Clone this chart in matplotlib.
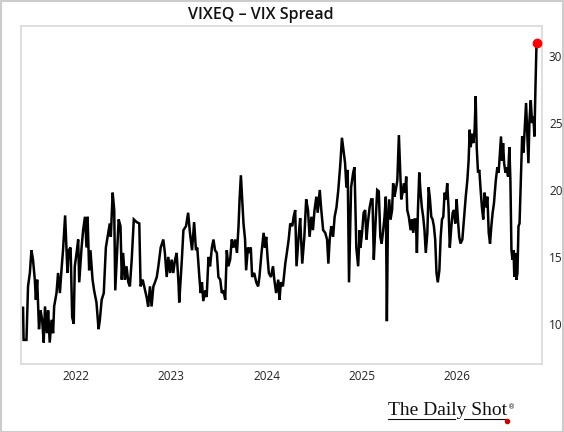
import matplotlib
matplotlib.use("Agg")
import matplotlib.pyplot as plt
import pandas as pd
from matplotlib.patches import Rectangle
from matplotlib.lines import Line2D

dates = [
 "2021-06-13","2021-06-15","2021-06-26","2021-07-02","2021-07-09","2021-07-15","2021-07-21","2021-07-28",
 "2021-08-01","2021-08-06","2021-08-13","2021-08-19","2021-08-25","2021-08-31","2021-09-05","2021-09-12",
 "2021-09-17","2021-09-23","2021-09-30","2021-10-06","2021-10-10","2021-10-19","2021-10-25","2021-11-01",
 "2021-11-07","2021-11-13","2021-11-21","2021-11-26","2021-11-30","2021-12-05","2021-12-12","2021-12-18",
 "2021-12-24","2021-12-28","2022-01-04","2022-01-10","2022-01-14","2022-01-23","2022-01-29","2022-02-05",
 "2022-02-11","2022-02-15","2022-02-21","2022-02-26","2022-03-06","2022-03-12","2022-03-21","2022-03-29",
 "2022-04-03","2022-04-10","2022-04-18","2022-04-26","2022-05-05","2022-05-11","2022-05-15","2022-05-22",
 "2022-05-28","2022-06-01","2022-06-06","2022-06-14","2022-06-21","2022-06-26","2022-07-01","2022-07-08",
 "2022-07-14","2022-07-21","2022-07-27","2022-08-03","2022-08-11","2022-08-22","2022-09-01","2022-09-06",
 "2022-09-14","2022-09-23","2022-09-29","2022-10-05","2022-10-12","2022-10-18","2022-10-25","2022-10-31",
 "2022-11-07","2022-11-13","2022-11-22","2022-12-02","2022-12-08","2022-12-15","2022-12-21","2022-12-28",
 "2023-01-03","2023-01-09","2023-01-16","2023-01-22","2023-01-29","2023-02-01","2023-02-11","2023-02-17",
 "2023-02-27","2023-03-07","2023-03-14","2023-03-22","2023-03-30","2023-04-06","2023-04-11","2023-04-19",
 "2023-04-24","2023-04-29","2023-05-04","2023-05-12","2023-05-17","2023-05-24","2023-05-30","2023-06-06",
 "2023-06-12","2023-06-18","2023-06-25","2023-07-01","2023-07-08","2023-07-14","2023-07-20","2023-07-27",
 "2023-08-02","2023-08-08","2023-08-15","2023-08-21","2023-08-28","2023-09-03","2023-09-10","2023-09-16",
 "2023-09-20","2023-09-25","2023-09-30","2023-10-05","2023-10-11","2023-10-15","2023-10-22","2023-10-28",
 "2023-11-02","2023-11-07","2023-11-15","2023-11-23","2023-11-30","2023-12-05","2023-12-13","2023-12-21",
 "2023-12-26","2023-12-31","2024-01-05","2024-01-10","2024-01-18","2024-01-26","2024-01-31","2024-02-07",
 "2024-02-15","2024-02-20","2024-02-25","2024-03-04","2024-03-13","2024-03-19","2024-03-26","2024-04-01",
 "2024-04-09","2024-04-14","2024-04-20","2024-04-25","2024-05-03","2024-05-09","2024-05-17","2024-05-25",
 "2024-06-01","2024-06-08","2024-06-14","2024-06-21","2024-06-27","2024-07-03","2024-07-10","2024-07-15",
 "2024-07-23","2024-07-28","2024-08-05","2024-08-13","2024-08-20","2024-08-25","2024-08-30","2024-09-05",
 "2024-09-12","2024-09-18","2024-09-25","2024-10-02","2024-10-10","2024-10-16","2024-10-23","2024-10-28",
 "2024-11-02","2024-11-07","2024-11-12","2024-11-20","2024-11-28","2024-12-03","2024-12-10","2024-12-17",
 "2024-12-23","2024-12-26","2025-01-01","2025-01-07","2025-01-13","2025-01-18","2025-01-23","2025-01-30",
 "2025-02-05","2025-02-10","2025-02-15","2025-02-21","2025-02-28","2025-03-06","2025-03-12","2025-03-17",
 "2025-03-23","2025-03-28","2025-04-02","2025-04-06","2025-04-10","2025-04-15","2025-04-20","2025-04-26",
 "2025-04-30","2025-05-05","2025-05-10","2025-05-16","2025-05-22","2025-05-26","2025-05-31","2025-06-05",
 "2025-06-10","2025-06-15","2025-06-19","2025-06-23","2025-06-29","2025-07-06","2025-07-11","2025-07-16",
 "2025-07-21","2025-07-26","2025-07-30","2025-08-03","2025-08-08","2025-08-13","2025-08-18","2025-08-23",
 "2025-08-28","2025-09-02","2025-09-08","2025-09-13","2025-09-18","2025-09-23","2025-09-28","2025-10-03",
 "2025-10-08","2025-10-13","2025-10-18","2025-10-24","2025-10-29","2025-11-03","2025-11-08","2025-11-13",
 "2025-11-18","2025-11-23","2025-11-28","2025-12-03","2025-12-09","2025-12-14","2025-12-19","2025-12-24",
 "2025-12-29","2026-01-03","2026-01-08","2026-01-13","2026-01-20","2026-01-26","2026-02-02","2026-02-08",
 "2026-02-13","2026-02-17","2026-02-21","2026-02-26","2026-03-03","2026-03-08","2026-03-12","2026-03-16",
 "2026-03-21","2026-03-26","2026-03-31","2026-04-05","2026-04-10","2026-04-15","2026-04-20","2026-04-26",
 "2026-05-01","2026-05-06","2026-05-11","2026-05-16","2026-05-21","2026-05-28","2026-06-03","2026-06-08",
 "2026-06-13","2026-06-17","2026-06-21","2026-06-25","2026-06-29","2026-07-04","2026-07-09","2026-07-14",
 "2026-07-19","2026-07-23","2026-07-27","2026-07-31","2026-08-04","2026-08-07","2026-08-11","2026-08-15",
 "2026-08-19","2026-08-23","2026-08-27","2026-09-01","2026-09-06","2026-09-11","2026-09-16","2026-09-21",
 "2026-09-26","2026-09-30","2026-10-04","2026-10-09","2026-10-14","2026-10-19","2026-10-23","2026-10-27",
 "2026-10-31",
]

spread = [
 11.2, 8.8, 8.8, 12.8, 13.8, 15.5, 14.8, 13.3,
 11.8, 13.3, 9.6, 11.0, 10.3, 8.6, 11.3, 9.3,
 11.0, 8.6, 10.3, 9.3, 11.3, 12.3, 13.8, 12.3,
 14.0, 15.5, 18.1, 15.7, 13.8, 15.5, 15.7, 10.5,
 10.0, 14.3, 15.3, 16.3, 13.1, 15.7, 17.0, 18.0,
 15.7, 18.0, 14.0, 15.5, 13.3, 12.5, 11.6, 9.6,
 10.3, 11.8, 12.3, 15.7, 16.8, 17.5, 16.5, 19.8,
 18.5, 12.5, 14.5, 17.8, 17.3, 13.3, 15.3, 13.3,
 14.3, 13.1, 12.8, 14.8, 17.8, 17.6, 17.5, 12.8,
 13.3, 12.5, 12.0, 11.3, 12.8, 11.3, 12.8, 13.1,
 13.5, 14.3, 15.7, 16.3, 15.3, 13.5, 15.0, 13.8,
 14.8, 13.8, 14.8, 15.3, 13.1, 11.6, 14.8, 17.0,
 17.3, 18.3, 16.8, 15.5, 17.6, 15.5, 15.7, 13.5,
 12.3, 13.1, 11.7, 12.5, 12.0, 15.0, 14.3, 15.7,
 16.3, 15.5, 15.3, 13.5, 13.3, 12.3, 12.5, 11.8,
 15.5, 14.3, 14.8, 16.3, 15.7, 16.3, 15.3, 17.3,
 19.3, 21.1, 19.3, 17.5, 16.3, 14.0, 15.7, 15.3,
 15.7, 13.5, 13.8, 13.1, 12.8, 13.5, 15.3, 16.8,
 15.7, 16.5, 15.0, 13.8, 13.5, 14.3, 13.3, 12.3,
 13.3, 11.8, 13.1, 12.8, 14.5, 15.3, 16.3, 17.5,
 17.3, 18.0, 18.5, 14.3, 16.5, 17.9, 14.5, 16.5,
 19.3, 18.5, 16.5, 18.0, 17.0, 18.5, 19.5, 18.3,
 20.0, 18.7, 17.0, 16.8, 16.3, 14.5, 16.3, 17.3,
 16.5, 18.0, 18.7, 20.0, 22.0, 23.9, 22.8, 22.0,
 20.2, 21.5, 13.1, 20.2, 21.3, 21.7, 15.7, 14.3,
 17.0, 15.7, 16.8, 18.3, 18.5, 16.3, 17.5, 18.7,
 19.3, 19.3, 14.8, 17.3, 20.0, 19.9, 16.5, 16.0,
 17.0, 18.0, 19.5, 10.2, 17.8, 19.3, 17.8, 18.5,
 20.5, 19.5, 20.0, 20.7, 24.1, 22.0, 19.3, 19.8,
 20.5, 19.8, 21.0, 18.5, 18.0, 17.0, 17.8, 16.8,
 17.8, 17.8, 15.3, 18.5, 21.3, 19.8, 18.7, 18.0,
 17.0, 15.3, 16.8, 20.2, 19.3, 18.0, 17.8, 17.3,
 16.3, 13.8, 13.1, 14.0, 16.5, 17.8, 18.0, 19.8,
 19.3, 20.5, 18.7, 15.7, 17.3, 18.3, 18.5, 17.5,
 19.3, 17.8, 16.5, 16.0, 16.3, 17.8, 19.5, 20.7,
 22.2, 24.5, 23.2, 24.2, 23.5, 24.5, 27.0, 23.2,
 21.3, 21.5, 20.0, 18.7, 17.8, 19.8, 18.7, 19.5,
 16.8, 16.0, 17.3, 18.3, 19.0, 20.7, 21.7, 21.3,
 22.8, 24.0, 22.2, 23.5, 22.0, 21.3, 21.7, 21.0,
 23.2, 20.7, 15.5, 14.8, 15.5, 13.5, 15.3, 13.3,
 13.8, 17.3, 17.5, 20.7, 24.0, 22.8, 24.7, 26.5,
 24.0, 22.0, 25.2, 26.7, 25.0, 25.5, 24.0, 27.7,
 31.0,
]

year_ticks = ["2022", "2023", "2024", "2025", "2026"]
y_ticks = [10, 15, 20, 25, 30]
title = "VIXEQ \u2013 VIX Spread"

plt.rcParams["font.family"] = ["Open Sans", "DejaVu Sans"]

x = pd.to_datetime(dates)

fig = plt.figure(figsize=(5.64, 4.32), dpi=100)
ax = fig.add_axes([0.0372, 0.1574, 0.9238, 0.7824])

ax.plot(x, spread, color="black", lw=1.8, solid_joinstyle="miter")
ax.plot(x[-1:], spread[-1:], "o", color="red", ms=6, zorder=5)

ax.set_xlim(pd.Timestamp("2021-06-05"), pd.Timestamp("2026-11-21"))
ax.set_ylim(7.0, 32.25)

ax.set_xticks(pd.to_datetime([f"{y}-01-01" for y in year_ticks]))
ax.set_xticklabels(year_ticks)
ax.yaxis.tick_right()
ax.set_yticks(y_ticks)
ax.set_yticklabels([str(v) for v in y_ticks])
ax.tick_params(axis="both", length=0, labelsize=8.5, colors="#222222")
ax.tick_params(axis="x", pad=4)
ax.tick_params(axis="y", pad=5)

for s in ax.spines.values():
    s.set_color("#d9d9d9")
    s.set_linewidth(1.2)

fig.text(0.462, 0.965, title, ha="center", va="center", fontsize=11.5,
         fontweight="semibold", color="#111111")

# brand mark
fig.text(0.688, 0.0405, "The Daily Shot", ha="left", va="baseline",
         fontsize=14, family="Liberation Serif", color="#111111")
fig.text(0.900, 0.058, "\u00ae", ha="left", va="center", fontsize=5,
         family="DejaVu Sans", color="#111111")
fig.add_artist(Line2D([0.688, 0.807], [0.031, 0.031], transform=fig.transFigure,
                      color="#111111", lw=0.8))
fig.add_artist(Line2D([0.822, 0.897], [0.031, 0.031], transform=fig.transFigure,
                      color="#111111", lw=0.8))
fig.add_artist(Line2D([0.899], [0.026], transform=fig.transFigure, marker="o",
                      color="#d40000", ms=3))

fig.add_artist(Rectangle((0.001, 0.001), 0.997, 0.997, transform=fig.transFigure,
                         fill=False, edgecolor="#cccccc", lw=1.5))

fig.savefig("out.png", dpi=100)
